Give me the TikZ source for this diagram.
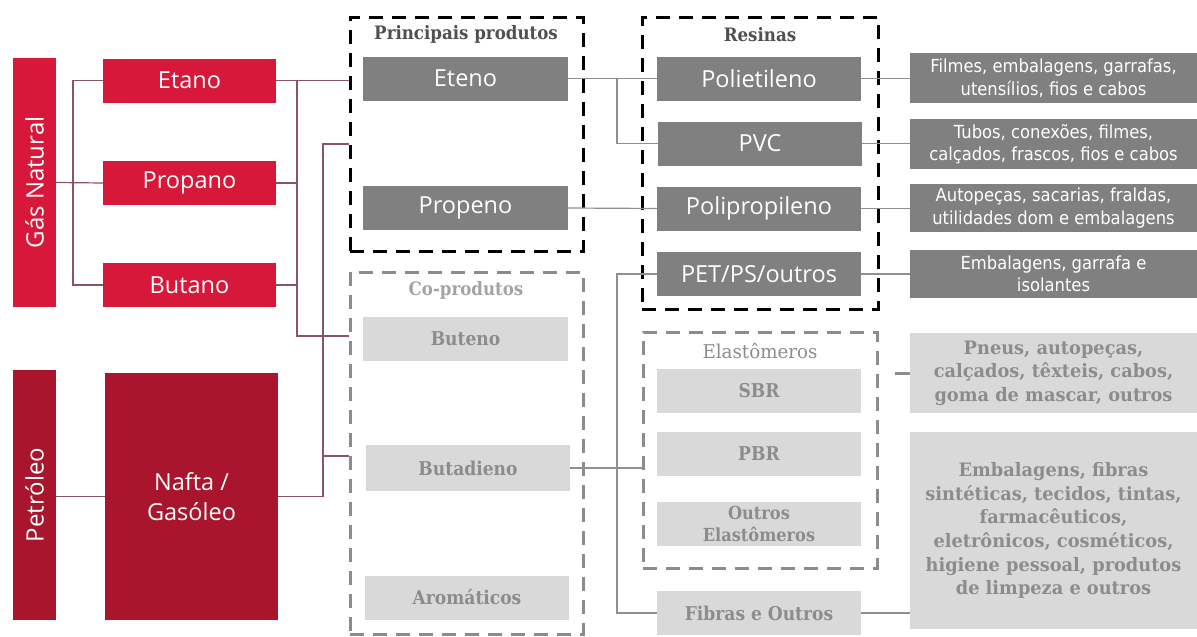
\documentclass[tikz,border=0pt]{standalone}
\usepackage{fontspec}
\setmainfont{Open Sans}
\newfontfamily\serifface[FakeStretch=0.9]{DejaVu Serif}
\newfontfamily\wideserif[FakeStretch=0.96]{DejaVu Serif}
\newfontfamily\narrowsans[FakeStretch=0.91]{DejaVu Sans}
\definecolor{gasred}{HTML}{D8183A}
\definecolor{oilred}{HTML}{A8152D}
\definecolor{darkbox}{HTML}{808080}
\definecolor{lightbox}{HTML}{D9D9D9}
\definecolor{lighttext}{HTML}{8C8C8C}
\definecolor{titletext}{HTML}{505050}
\definecolor{linkred}{HTML}{8A5560}
\definecolor{linkgray}{HTML}{8F8F8F}
\definecolor{groupgray}{HTML}{8C8C8C}
\tikzset{
  box/.style={rectangle, inner sep=0pt, align=center, minimum width=204pt, minimum height=44pt},
  srcbox/.style={box, fill=gasred, text=white, minimum width=173pt, font=\fontsize{23.5}{29.5}\selectfont},
  oilbox/.style={srcbox, fill=oilred},
  prodbox/.style={box, fill=darkbox, text=white, font=\fontsize{23.5}{27}\selectfont},
  cobox/.style={box, fill=lightbox, text=lighttext, font=\serifface\bfseries\fontsize{19}{23}\selectfont},
  usebox/.style={box, fill=darkbox, text=white, minimum width=287pt, font=\narrowsans\fontsize{18}{22.5}\selectfont},
  lightuse/.style={usebox, fill=lightbox, text=lighttext, font=\wideserif\bfseries\fontsize{18.5}{23.6}\selectfont},
  group/.style={rectangle, draw=black, line width=3pt, dash pattern=on 14pt off 9pt, inner sep=0pt},
  lightgroup/.style={group, draw=groupgray},
  grouptitle/.style={inner sep=0pt, text=titletext, font=\serifface\bfseries\fontsize{18.5}{21}\selectfont},
  sidelabel/.style={rotate=90, text=white, inner sep=0pt, font=\fontsize{24}{28}\selectfont},
  link/.style={draw=linkred, line width=1.2pt},
  glink/.style={draw=linkgray, line width=1.2pt},
}
\begin{document}
\begin{tikzpicture}[x=1pt, y=-1pt]
\useasboundingbox (0,0) rectangle (1197,637);

% raw materials
\node[srcbox, minimum width=43pt, minimum height=249pt] (gas) at (34.5,182.5) {};
\node[sidelabel] (gaslabel) at (gas.center) {Gás Natural};
\node[srcbox] (etano) at (189.5,80.5) {Etano};
\node[srcbox] (propano) at (189.5,183) {Propano};
\node[srcbox] (butano) at (189.5,285) {Butano};
\node[oilbox, minimum width=43pt, minimum height=250pt] (petroleo) at (34.5,495) {};
\node[sidelabel] (petlabel) at (petroleo.center) {Petróleo};
\node[oilbox, minimum height=247pt] (nafta) at (191.5,496.5) {Nafta /\\Gasóleo};

% groups
\node[group, minimum width=233pt, minimum height=234pt] (pp) at (466.5,134) {};
\node[group, minimum width=236pt, minimum height=292pt] (res) at (760,163) {};
\node[lightgroup, minimum width=233pt, minimum height=362pt] (cp) at (466.5,453) {};
\node[lightgroup, minimum width=234pt, minimum height=236pt] (el) at (760,450) {};
\node[grouptitle] (pptitle) at (466,34) {Principais produtos};
\node[grouptitle] (restitle) at (760,35) {Resinas};
\node[grouptitle, text=groupgray!80] (cptitle) at (466,290) {Co-produtos};
\node[grouptitle, text=groupgray, font=\wideserif\fontsize{19}{21}\selectfont] (eltitle) at (760,351) {Elastômeros};

% main products and resins
\node[prodbox, minimum width=205pt] (eteno) at (465.5,78.5) {Eteno};
\node[prodbox, minimum width=205pt] (propeno) at (465.5,208) {Propeno};
\node[prodbox] (polietileno) at (759,78.5) {Polietileno};
\node[prodbox] (pvc) at (760,143.5) {PVC};
\node[prodbox] (polipropileno) at (759,208.5) {Polipropileno};
\node[prodbox] (pet) at (759,274) {PET/PS/outros};

% co-products and elastomers
\node[cobox, minimum width=205pt] (buteno) at (465.5,339) {Buteno};
\node[cobox, minimum height=46pt] (butadieno) at (468,468) {Butadieno};
\node[cobox] (aromaticos) at (467,597.5) {Aromáticos};
\node[cobox] (sbr) at (759,391) {SBR};
\node[cobox] (pbr) at (759,454) {PBR};
\node[cobox, font=\serifface\bfseries\fontsize{18}{22}\selectfont] (outros) at (759,524) {Outros\\Elastômeros};
\node[cobox] (fibras) at (759,613) {Fibras e Outros};

% applications
\node[usebox, minimum height=50pt] (filmes) at (1053.5,78) {Filmes, embalagens, garrafas,\\utensílios, fios e cabos};
\node[usebox, minimum height=50pt] (tubos) at (1053.5,144) {Tubos, conexões, filmes,\\calçados, frascos, fios e cabos};
\node[usebox, minimum height=48pt] (autopecas) at (1053.5,208) {Autopeças, sacarias, fraldas,\\utilidades dom e embalagens};
\node[usebox, minimum height=48pt] (embal) at (1053.5,274) {Embalagens, garrafa e\\isolantes};
\node[lightuse, minimum height=80pt] (pneus) at (1053.5,373) {Pneus, autopeças,\\calçados, têxteis, cabos,\\goma de mascar, outros};
\node[lightuse, minimum height=197pt] (embfib) at (1053.5,530.5) {Embalagens, fibras\\sintéticas, tecidos, tintas,\\farmacêuticos,\\eletrônicos, cosméticos,\\higiene pessoal, produtos\\de limpeza e outros};

% connectors on the raw-material side
\coordinate (jl) at (73,183);
\coordinate (jr) at (297,336);
\coordinate (jn) at (323,144);
\coordinate (jb) at (323,456);
\draw[link] (gas.east) -- (propano.west);
\draw[link] (etano.west) -| (jl) |- (butano.west);
\draw[link] (etano.east) -- (etano.east -| pp.west);
\draw[link] (etano.east -| jr) |- (cp.west |- jr);
\draw[link] (propano.east) -- (propano.east -| jr);
\draw[link] (butano.east) -- (butano.east -| jr);
\draw[link] (pp.west |- jn) -- (jn) |- (nafta.east);
\draw[link] (jb) -- (cp.west |- jb);
\draw[link] (petroleo.east |- nafta.east) -- (nafta.west |- nafta.east);

% connectors between products and resins
\coordinate (jm) at (617,144);
\draw[glink] (eteno.east) -- (polietileno.west);
\draw[glink] (eteno.east -| jm) |- (pvc.west);
\draw[glink] (propeno.east) -- (polipropileno.west);
\draw[glink] (pet.west) -- (pet.west -| jm) |- (fibras.west);
\draw[glink] (butadieno.east) -- (butadieno.east -| el.west);

% connectors to applications
\draw[glink] (polietileno.east) -- (filmes.west |- polietileno.east);
\draw[glink] (pvc.east) -- (tubos.west |- pvc.east);
\draw[glink] (polipropileno.east) -- (autopecas.west |- polipropileno.east);
\draw[glink] (pet.east) -- (embal.west |- pet.east);
\draw[glink] (fibras.east) -- (fibras.east -| embfib.west);
\draw[draw=groupgray, line width=3pt, dash pattern=on 16pt off 16pt, dash phase=16pt] (el.east |- pneus.west) -- (pneus.west);
\end{tikzpicture}
\end{document}
